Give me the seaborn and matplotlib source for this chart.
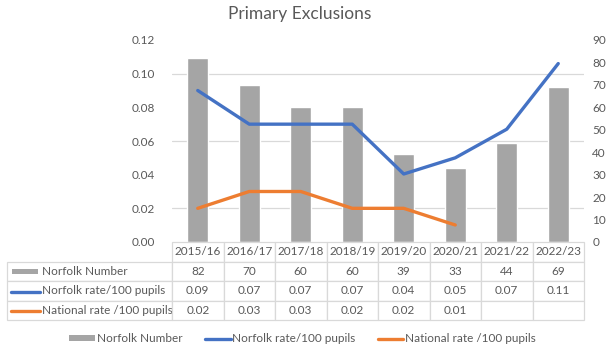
import seaborn as sns
import pandas as pd
import numpy as np
import matplotlib
matplotlib.use("Agg")
import matplotlib.pyplot as plt
from matplotlib.lines import Line2D
from matplotlib.patches import Patch, Rectangle
from matplotlib.ticker import MultipleLocator, FormatStrFormatter

# data
years = ["2015/16", "2016/17", "2017/18", "2018/19", "2019/20", "2020/21", "2021/22", "2022/23"]
norfolk_number = [82, 70, 60, 60, 39, 33, 44, 69]
norfolk_rate = [0.09, 0.07, 0.07, 0.07, 0.0404, 0.050, 0.067, 0.106]
national_rate = [0.02, 0.03, 0.03, 0.02, 0.02, 0.0101, np.nan, np.nan]
norfolk_rate_txt = ["0.09", "0.07", "0.07", "0.07", "0.04", "0.05", "0.07", "0.11"]
national_rate_txt = ["0.02", "0.03", "0.03", "0.02", "0.02", "0.01", "", ""]
row_labels = ["Norfolk Number", "Norfolk rate/100 pupils", "National rate /100 pupils"]

df = pd.DataFrame({"year": years, "number": norfolk_number,
                   "norfolk": norfolk_rate, "national": national_rate})

grey = "#A5A5A5"
blue = "#4472C4"
orange = "#ED7D31"
txt = "#595959"
grid = "#D9D9D9"

sns.set_style("white")
plt.rcParams["font.family"] = ["Lato", "DejaVu Sans"]

W, H = 611, 350
fig = plt.figure(figsize=(W / 100, H / 100), dpi=100)
ax_bar = fig.add_axes([172 / W, 1 - 242 / H, 412 / W, 202 / H])
ax_line = ax_bar.twinx()

# bars (right axis)
sns.barplot(data=df, x="year", y="number", ax=ax_bar, color=grey, width=0.4,
            saturation=1, zorder=2)
ax_bar.set_ylim(0, 90)
ax_bar.yaxis.set_major_locator(MultipleLocator(10))
ax_bar.yaxis.set_minor_locator(MultipleLocator(15))
ax_bar.grid(which="minor", axis="y", color=grid, lw=0.9, zorder=0)
ax_bar.set_axisbelow(True)
ax_bar.yaxis.tick_right()
ax_bar.tick_params(axis="y", which="both", length=0, pad=6, labelsize=8.5, labelcolor=txt)

# lines (left axis)
sns.lineplot(data=df, x="year", y="norfolk", ax=ax_line, color=blue, lw=2.4)
sns.lineplot(data=df, x="year", y="national", ax=ax_line, color=orange, lw=2.4)
ax_line.set_ylim(0, 0.12)
ax_line.yaxis.set_major_locator(MultipleLocator(0.02))
ax_line.yaxis.set_major_formatter(FormatStrFormatter("%.2f"))
ax_line.yaxis.tick_left()
ax_line.tick_params(axis="y", length=0, pad=12, labelsize=8.5, labelcolor=txt)

for a in (ax_bar, ax_line):
    a.set_xlim(-0.5, len(years) - 0.5)
    a.set_xlabel("")
    a.set_ylabel("")
    a.set_xticks([])
    for s in a.spines.values():
        s.set_visible(False)

# data table
cell_text = [[""] + years,
             [row_labels[0]] + [str(v) for v in norfolk_number],
             [row_labels[1]] + norfolk_rate_txt,
             [row_labels[2]] + national_rate_txt]
tbl = ax_line.table(cellText=cell_text, cellLoc="center",
                    colWidths=[165] + [51.5] * len(years),
                    bbox=[-165 / 412, -78 / 202, 577 / 412, 78 / 202])
tbl.auto_set_font_size(False)
tbl.set_fontsize(8.5)
for (r, c), cell in tbl.get_celld().items():
    cell.set_edgecolor(grid)
    cell.set_linewidth(0.9)
    cell.get_text().set_color(txt)
    if r == 0 and c == 0:
        cell.visible_edges = ""
    if c == 0:
        cell._loc = "left"
        cell.PAD = 0.215
        cell.get_text().set_ha("left")

# swatches in the row label cells
tf = fig.transFigure
fig.add_artist(Rectangle((12 / W, 1 - 273.5 / H), 26 / W, 5 / H, transform=tf,
                         color=grey, lw=0))
fig.add_artist(Line2D([11 / W, 40 / W], [1 - 291.5 / H] * 2, transform=tf, color=blue, lw=2.4))
fig.add_artist(Line2D([11 / W, 40 / W], [1 - 311 / H] * 2, transform=tf, color=orange, lw=2.4))

fig.suptitle("Primary Exclusions", y=1 - 14 / H, va="center", x=0.49,
             fontsize=12.5, color=txt)

handles = [Patch(color=grey, lw=0), Line2D([], [], color=blue, lw=2.4),
           Line2D([], [], color=orange, lw=2.4)]
leg = fig.legend(handles, row_labels, loc="center", bbox_to_anchor=(0.495, 1 - 339 / H),
                 ncol=3, frameon=False, fontsize=8.5, handlelength=2.2,
                 handleheight=0.45, handletextpad=0.1, columnspacing=1.9)
for t in leg.get_texts():
    t.set_color(txt)

fig.savefig("out.png", dpi=100)
